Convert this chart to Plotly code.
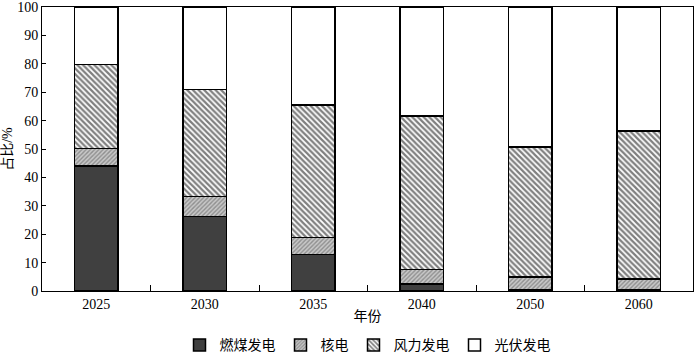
import plotly.graph_objects as go

years = ["2025", "2030", "2035", "2040", "2050", "2060"]
coal = [44.0, 26.2, 12.9, 2.5, 0.6, 0.4]
nuclear = [6.1, 7.0, 6.0, 5.1, 4.3, 3.9]
wind = [29.7, 37.8, 46.6, 54.0, 45.8, 52.0]
pv = [round(100 - c - n - w, 1) for c, n, w in zip(coal, nuclear, wind)]

names = ["燃煤发电", "核电", "风力发电", "光伏发电"]
series = [coal, nuclear, wind, pv]
styles = [
    dict(color="#404040", pattern=dict(shape="")),
    dict(color="#c0c0c0", pattern=dict(shape="/", fgcolor="#555555", bgcolor="#c8c8c8", size=3, solidity=0.45)),
    dict(color="white", pattern=dict(shape="\\", fgcolor="#000000", bgcolor="white", size=4, solidity=0.55)),
    dict(color="white", pattern=dict(shape="")),
]

font_fam = "Liberation Serif, Noto Sans CJK SC, serif"

fig = go.Figure()
for name, vals, st in zip(names, series, styles):
    fig.add_trace(go.Bar(
        x=years, y=vals, name=name,
        marker=dict(color=st["color"], pattern=st["pattern"],
                    line=dict(color="black", width=1.5)),
    ))

fig.update_layout(
    barmode="stack",
    bargap=0.6,
    width=700, height=355,
    margin=dict(l=42, r=7, t=7, b=64, autoexpand=False),
    plot_bgcolor="white", paper_bgcolor="white",
    font=dict(family=font_fam, size=14, color="black"),
    showlegend=True,
    legend=dict(orientation="h", x=0.5, xanchor="center", y=-0.135, yanchor="top",
                font=dict(size=14), traceorder="normal"),
)
fig.update_xaxes(
    type="category", showline=True, linecolor="black", linewidth=1, mirror=True,
    ticks="inside", tickson="boundaries", ticklen=6, tickcolor="black",
    title=dict(text="年份", standoff=0, font=dict(size=14)),
    tickfont=dict(size=14), automargin=False,
)
fig.update_yaxes(
    range=[0, 100], dtick=10, showline=True, linecolor="black", linewidth=1, mirror=True,
    ticks="inside", ticklen=4, tickcolor="black", showgrid=False, zeroline=False,
    title=dict(text="占比/%", standoff=4, font=dict(size=14)),
    tickfont=dict(size=14), automargin=False, ticklabeloverflow="allow",
)

fig.write_html("out.html", config={"displayModeBar": False},
               post_script="document.body.style.margin='0';document.body.style.overflow='hidden';")
